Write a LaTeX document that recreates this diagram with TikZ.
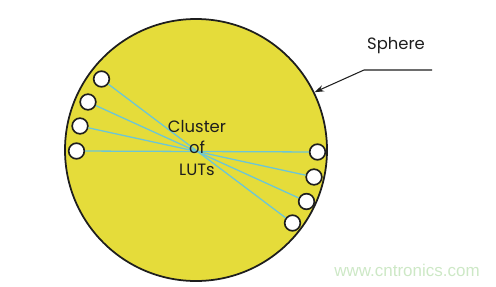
\documentclass[tikz,border=0pt]{standalone}
\usepackage{fontspec}
\setmainfont{Poppins}
\newfontfamily\wmfont{Liberation Sans}
\usepackage{xcolor}
\usepackage{tikz}
\usetikzlibrary{arrows.meta,positioning}
\definecolor{cYellow}{HTML}{E5DC3A}
\definecolor{cCyan}{HTML}{6CC6D6}
\definecolor{cInk}{HTML}{1E1E1E}
\definecolor{cMark}{HTML}{CDE8C6}
\tikzset{
  sph/.style={circle,draw=cInk,fill=cYellow,line width=1.5pt,minimum size=#1,inner sep=0pt},
  lut/.style={circle,draw=cInk,fill=white,line width=1.4pt,minimum size=4.7mm,inner sep=0pt},
  wire/.style={color=cCyan,line width=1.1pt},
  arr/.style={-{Stealth[length=8pt,width=5.5pt]},line width=0.9pt,color=cInk},
  lbl/.style={font=\fontsize{14}{18.5}\selectfont,text=cInk,align=center,inner sep=0pt},
}

\begin{document}
\begin{tikzpicture}[x=0.3mm,y=-0.3mm]
  \useasboundingbox (0,0) rectangle (496,286);
  \node[sph=78.6mm] (sphere) at (196,150) {};
  % LUTs along the rim
  \node[lut] (l1) at (101.5,79) {};
  \node[lut] (l2) at (88,102) {};
  \node[lut] (l3) at (80,126) {};
  \node[lut] (l4) at (76.5,151) {};
  \node[lut] (r1) at (317.5,152) {};
  \node[lut] (r2) at (314,177) {};
  \node[lut] (r3) at (306.5,201.5) {};
  \node[lut] (r4) at (292.5,223) {};
  \draw[wire] (l1) -- (r4); \draw[wire] (l2) -- (r3);
  \draw[wire] (l3) -- (r2); \draw[wire] (l4) -- (r1);
  \node[lbl] (cluster) at (197,148) {Cluster\\of\\LUTs};
  % callout
  \node[lbl] (sphlbl) at (396,46) {Sphere};
  \coordinate (c1) at (432,70);
  \coordinate (c2) at (364,70);
  \draw[arr] (c1) -- (c2) -- (sphere.26);
  \node[font=\wmfont\fontsize{14.5}{16}\selectfont,text=cMark,inner sep=0pt] (mark) at (407,270) {www.cntronics.com};
\end{tikzpicture}
\end{document}
